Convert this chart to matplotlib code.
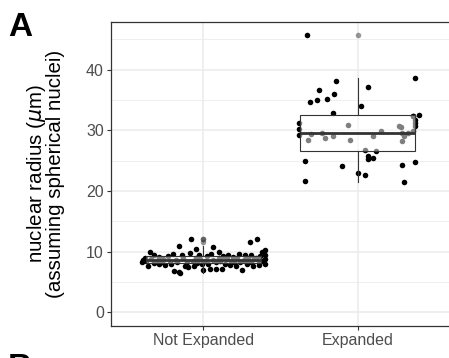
import matplotlib
matplotlib.use("Agg")
import matplotlib.pyplot as plt

plt.rcParams['font.family'] = ['Liberation Sans', 'DejaVu Sans']

categories = ["Not Expanded", "Expanded"]

# Not Expanded: jitter offset (category units) and nuclear radius values
ne_jitter = [-0.40, -0.39, -0.38, -0.37, -0.36, -0.35, -0.34, -0.32, -0.32, -0.31,
             -0.29, -0.29, -0.27, -0.26, -0.25, -0.23, -0.22, -0.21, -0.20, -0.19,
             -0.18, -0.17, -0.16, -0.16, -0.15, -0.14, -0.13, -0.12, -0.11, -0.10,
             -0.09, -0.08, -0.07, -0.06, -0.05, -0.05, -0.04, -0.03, -0.02, -0.01,
             0.00, 0.01, 0.02, 0.03, 0.04, 0.05, 0.06, 0.06, 0.08, 0.08,
             0.10, 0.10, 0.11, 0.12, 0.13, 0.14, 0.15, 0.16, 0.17, 0.18,
             0.19, 0.20, 0.21, 0.22, 0.23, 0.24, 0.25, 0.26, 0.27, 0.28,
             0.29, 0.30, 0.31, 0.31, 0.32, 0.33, 0.34, 0.35, 0.36, 0.36,
             0.37, 0.38, 0.38, 0.40, 0.40, 0.40, 0.40]
ne_values = [8.2, 8.6, 9.0, 8.4, 7.6, 9.9, 8.8, 8.1, 9.4, 8.5,
             7.9, 9.1, 8.3, 8.7, 7.8, 9.3, 8.4, 8.0, 9.6, 6.8,
             8.6, 8.2, 10.9, 6.6, 6.4, 9.5, 8.9, 7.7, 8.3, 7.5,
             9.7, 12.0, 8.5, 7.6, 9.0, 10.5, 8.1, 9.4, 8.7, 7.9,
             6.9, 8.4, 9.2, 8.0, 7.1, 9.6, 8.6, 10.8, 7.1, 8.2,
             9.0, 10.0, 8.5, 7.1, 9.3, 8.0, 8.7, 9.5, 7.8, 8.4,
             9.1, 8.2, 7.7, 8.9, 9.6, 8.3, 6.9, 8.6, 9.4, 7.9,
             8.8, 11.5, 8.2, 9.5, 7.6, 8.7, 9.0, 12.0, 8.3, 7.8,
             9.2, 9.9, 8.5, 10.2, 8.0, 8.8, 9.5]

# Expanded
ex_jitter = [-0.33, -0.14, 0.37, -0.25, 0.07, -0.15, -0.31, -0.26, -0.20, 0.02,
             -0.16, 0.40, 0.36, -0.38, -0.38, -0.38, 0.37, 0.37, 0.05, 0.12,
             0.07, 0.07, 0.10, -0.34, -0.10, 0.29, 0.37, 0.00, 0.05, -0.34,
             0.30,
             -0.32, -0.30, -0.23, -0.21, -0.16, -0.06, -0.05, 0.10, 0.15, 0.27,
             0.28, 0.29, 0.30, 0.29, 0.33, 0.36, 0.36, 0.37]
ex_values = [45.7, 38.2, 38.6, 36.7, 37.1, 36.0, 34.7, 35.0, 35.1, 34.0,
             32.9, 32.6, 32.4, 31.2, 30.2, 29.3, 30.8, 31.7, 26.7, 26.6,
             25.8, 25.2, 25.5, 25.0, 24.2, 24.3, 24.8, 23.0, 22.6, 21.7,
             21.4,
             28.4, 29.4, 29.5, 28.8, 29.1, 30.9, 28.4, 29.1, 29.9, 30.8,
             30.5, 29.6, 29.0, 28.2, 29.5, 29.9, 32.3, 31.2]

# Box statistics
box_q1 = [8.05, 26.6]
box_med = [8.6, 29.5]
box_q3 = [9.25, 32.5]
box_lo = [6.4, 21.4]
box_hi = [10.9, 38.6]
box_fliers = [[11.5, 12.0, 12.0], [45.7]]

y_ticks = [0, 10, 20, 30, 40]
y_label = "nuclear radius ($\\mathit{\\mu}$m)\n(assuming spherical nuclei)"

W, H = 449, 358
fig = plt.figure(figsize=(W / 100, H / 100), dpi=100)
ax = fig.add_axes([111 / W, (H - 326) / H, 339 / W, (326 - 22) / H])

grey20 = '#333333'
ax.set_facecolor('white')

xs = [1 + j for j in ne_jitter]
ax.scatter(xs, ne_values, s=16, color='black', linewidths=0, zorder=2)
xs = [2 + j for j in ex_jitter]
ax.scatter(xs, ex_values, s=16, color='black', linewidths=0, zorder=2)

stats = []
for i in range(2):
    stats.append(dict(med=box_med[i], q1=box_q1[i], q3=box_q3[i],
                      whislo=box_lo[i], whishi=box_hi[i], fliers=box_fliers[i]))
ax.bxp(stats, positions=[1, 2], widths=0.75, patch_artist=True, showcaps=False,
       boxprops=dict(facecolor=(1, 1, 1, 0.5), edgecolor=grey20, linewidth=0.8),
       medianprops=dict(color=grey20, linewidth=2.0, solid_capstyle='butt'),
       whiskerprops=dict(color=grey20, linewidth=0.8),
       flierprops=dict(marker='o', markerfacecolor=(0.2, 0.2, 0.2, 0.5),
                       markeredgecolor='none', markersize=4.0),
       zorder=3)

ax.set_xlim(0.4, 2.6)
ax.set_ylim(-2.28, 47.88)
ax.set_xticks([1, 2])
ax.set_xticklabels(categories)
ax.set_yticks(y_ticks)
ax.set_yticks([5, 15, 25, 35, 45], minor=True)
ax.grid(True, which='major', color='#ebebeb', linewidth=1.1, zorder=0)
ax.grid(True, which='minor', axis='y', color='#ebebeb', linewidth=0.55, zorder=0)
ax.set_axisbelow(True)
ax.tick_params(which='major', length=3.0, width=0.8, color=grey20,
               labelsize=11.5, labelcolor='#4d4d4d', pad=2.2)
ax.tick_params(which='minor', length=0)
for s in ax.spines.values():
    s.set_color(grey20)
    s.set_linewidth(0.9)

ax.set_ylabel(y_label, fontsize=14.8, color='black', labelpad=15, linespacing=0.9)

fig.text(8 / W, 1 - 36 / H, "A", fontsize=24, fontweight='bold', ha='left', va='baseline')
fig.text(8 / W, 1 - 377 / H, "B", fontsize=24, fontweight='bold', ha='left', va='baseline')

fig.savefig("out.png", dpi=100)
